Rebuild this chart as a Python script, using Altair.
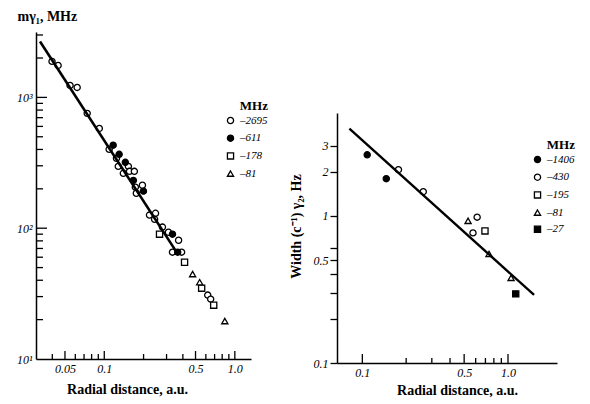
import altair as alt
import pandas as pd

FONT = "Liberation Serif"

# ---------------- Left panel: frequency (MHz) vs radial distance (a.u.) ----------------
L_series = ["–2695", "–611", "–178", "–81"]
L_shapes = ["circle", "circle", "square", "triangle-up"]
L_fills = ["white", "black", "white", "white"]

L_2695_x = [0.0398, 0.0443, 0.0547, 0.0620, 0.0740, 0.0916, 0.109, 0.124, 0.128, 0.140,
            0.153, 0.156, 0.170, 0.173, 0.196, 0.176, 0.222, 0.247, 0.243, 0.279,
            0.310, 0.371, 0.333, 0.391, 0.620, 0.653]
L_2695_y = [1885, 1754, 1235, 1192, 755, 579, 401, 342, 297, 263,
            297, 272, 272, 206, 213, 185, 126, 130, 117, 102,
            93.1, 80.9, 65.6, 65.6, 30.8, 28.7]
L_611_x = [0.117, 0.130, 0.145, 0.167, 0.1995, 0.333, 0.365]
L_611_y = [431, 367, 319, 232, 192, 90, 65.6]
L_178_x = [0.265, 0.412, 0.557, 0.689]
L_178_y = [90, 54.9, 34.8, 25.8]
L_81_x = [0.475, 0.538, 0.838]
L_81_y = [44.6, 38.7, 19.5]
L_fit_x = [0.0322, 0.358]
L_fit_y = [2673, 65.6]

L_ytick_major = [100, 1000]
L_ytick_minor = [20, 30, 40, 50, 60, 70, 80, 90, 200, 300, 400, 500, 600, 700, 800, 900, 2000, 3000]
L_ylabels = [10, 100, 1000]
L_xtick_major = [0.05, 0.1, 0.5, 1.0]
L_xtick_minor = [0.04, 0.06, 0.07, 0.08, 0.09, 0.2, 0.3, 0.4, 0.6, 0.7, 0.8, 0.9]
L_xlabels = [0.05, 0.1, 0.5, 1.0]

# ---------------- Right panel: width (Hz) vs radial distance (a.u.) ----------------
R_series = ["–1406", "–430", "–195", "–81 ", "–27"]
R_shapes = ["circle", "circle", "square", "triangle-up", "square"]
R_fills = ["black", "white", "white", "white", "black"]

R_1406_x = [0.108, 0.146]
R_1406_y = [2.60, 1.79]
R_430_x = [0.177, 0.262, 0.614, 0.575]
R_430_y = [2.06, 1.46, 0.98, 0.766]
R_195_x = [0.695]
R_195_y = [0.79]
R_81_x = [0.532, 0.741, 1.05]
R_81_y = [0.925, 0.551, 0.379]
R_27_x = [1.13]
R_27_y = [0.295]
R_fit_x = [0.0815, 1.51]
R_fit_y = [3.91, 0.290]

R_yticks = [0.1, 0.2, 0.3, 0.4, 0.5, 0.6, 1, 2, 3]
R_ylabels = [0.1, 0.5, 1, 2, 3]
R_xtick_major = [0.1, 0.5, 1.0]
R_xtick_minor = [0.2, 0.3, 0.4, 0.6, 0.7, 0.8, 0.9]


def make_df(pairs, names):
    rows = []
    for (xs, ys), n in zip(pairs, names):
        for x, y in zip(xs, ys):
            rows.append({"r": x, "v": y, "s": n})
    return pd.DataFrame(rows)


left_df = make_df([(L_2695_x, L_2695_y), (L_611_x, L_611_y), (L_178_x, L_178_y), (L_81_x, L_81_y)], L_series)
right_df = make_df([(R_1406_x, R_1406_y), (R_430_x, R_430_y), (R_195_x, R_195_y), (R_81_x, R_81_y), (R_27_x, R_27_y)], R_series)

LW, LH = 215, 327
RW, RH = 220, 250

lx = alt.Scale(type="log", domain=[0.03, 1.33], nice=False)
ly = alt.Scale(type="log", domain=[10, 3162], nice=False)
rx = alt.Scale(type="log", domain=[0.067, 2.17], nice=False)
ry = alt.Scale(type="log", domain=[0.1, 5], nice=False)


def legend(x, y):
    return alt.Legend(title="MHz", orient="none", legendX=x, legendY=y,
                      titleAnchor="end", titleAlign="right")


def point_enc(series, shapes, fills, lx_, ly_):
    n = len(series)
    return dict(
        shape=alt.Shape("s:N", scale=alt.Scale(domain=series, range=shapes), legend=legend(lx_, ly_)),
        fill=alt.Fill("s:N", scale=alt.Scale(domain=series, range=fills), legend=legend(lx_, ly_)),
        stroke=alt.Stroke("s:N", scale=alt.Scale(domain=series, range=["black"] * n), legend=legend(lx_, ly_)),
    )


left_pts = alt.Chart(left_df).mark_point(filled=True, size=38, strokeWidth=1.3, opacity=1).encode(
    x=alt.X("r:Q", scale=lx, axis=alt.Axis(
        values=L_xlabels, ticks=False, labelExpr="datum.value == 1 ? '1.0' : format(datum.value, '~g')",
        title="Radial distance, a.u.", titleX=91, titleY=34, titleBaseline="alphabetic", labelPadding=4)),
    y=alt.Y("v:Q", scale=ly, axis=alt.Axis(
        values=L_ylabels, ticks=False,
        labelExpr="datum.value == 10 ? '10¹' : datum.value == 100 ? '10²' : '10³'",
        title="mγ₁, MHz", titleAngle=0, titleX=-19, titleY=-12, titleAlign="left",
        titleBaseline="alphabetic", labelPadding=4)),
    **point_enc(L_series, L_shapes, L_fills, 189, 68),
)
left_fit = alt.Chart(pd.DataFrame({"r": L_fit_x, "v": L_fit_y})).mark_line(color="black", strokeWidth=2.6).encode(
    x=alt.X("r:Q", scale=lx), y=alt.Y("v:Q", scale=ly))
l_ty_maj = alt.Chart(pd.DataFrame({"v": L_ytick_major})).mark_tick(color="black", thickness=1.3, size=11, opacity=1).encode(
    y=alt.Y("v:Q", scale=ly), x=alt.value(5.5))
l_ty_min = alt.Chart(pd.DataFrame({"v": L_ytick_minor})).mark_tick(color="black", thickness=1.3, size=7, opacity=1).encode(
    y=alt.Y("v:Q", scale=ly), x=alt.value(3.5))
l_tx_maj = alt.Chart(pd.DataFrame({"r": L_xtick_major})).mark_tick(color="black", thickness=1.3, size=8, opacity=1).encode(
    x=alt.X("r:Q", scale=lx), y=alt.value(LH - 4))
l_tx_min = alt.Chart(pd.DataFrame({"r": L_xtick_minor})).mark_tick(color="black", thickness=1.3, size=5, opacity=1).encode(
    x=alt.X("r:Q", scale=lx), y=alt.value(LH - 2.5))

left = alt.layer(left_pts, left_fit, l_ty_maj, l_ty_min, l_tx_maj, l_tx_min).properties(width=LW, height=LH)

right_pts = alt.Chart(right_df).mark_point(filled=True, size=38, strokeWidth=1.3, opacity=1).encode(
    x=alt.X("r:Q", scale=rx, axis=alt.Axis(
        values=R_xtick_major, ticks=False, labelExpr="datum.value == 1 ? '1.0' : format(datum.value, '~g')",
        title="Radial distance, a.u.", titleX=120, titleY=31, titleBaseline="alphabetic", labelPadding=4)),
    y=alt.Y("v:Q", scale=ry, axis=alt.Axis(
        values=R_yticks, ticks=True, tickSize=7, tickWidth=1.3, tickColor="black", labelOverlap=False,
        labelExpr="indexof([0.1, 0.5, 1, 2, 3], datum.value) >= 0 ? format(datum.value, '~g') : ''",
        title="Width (c⁻¹) γ₂, Hz", titleAngle=270, titleX=-34, titleY=113, titleAlign="center",
        titleBaseline="bottom", labelPadding=2)),
    **point_enc(R_series, R_shapes, R_fills, 195, 107),
)
right_fit = alt.Chart(pd.DataFrame({"r": R_fit_x, "v": R_fit_y})).mark_line(color="black", strokeWidth=2.4).encode(
    x=alt.X("r:Q", scale=rx), y=alt.Y("v:Q", scale=ry))
r_tx_maj = alt.Chart(pd.DataFrame({"r": R_xtick_major})).mark_tick(color="black", thickness=1.3, size=9, opacity=1).encode(
    x=alt.X("r:Q", scale=rx), y=alt.value(RH - 4.5))
r_tx_min = alt.Chart(pd.DataFrame({"r": R_xtick_minor})).mark_tick(color="black", thickness=1.3, size=5, opacity=1).encode(
    x=alt.X("r:Q", scale=rx), y=alt.value(RH - 2.5))

right = alt.layer(right_pts, right_fit, r_tx_maj, r_tx_min).properties(width=RW, height=RH)

spacer = alt.Chart(pd.DataFrame({"a": [0]})).mark_point(opacity=0).encode(
    x=alt.X("a:Q", axis=None), y=alt.Y("a:Q", axis=None)).properties(width=RW, height=81)

chart = alt.hconcat(
    left,
    alt.vconcat(spacer, right, spacing=0),
    spacing=21,
).resolve_scale(
    x="independent", y="independent", shape="independent", fill="independent", stroke="independent"
).resolve_legend(shape="independent", fill="independent", stroke="independent").properties(
    padding={"left": 8, "top": 1, "right": 0, "bottom": 0}, background="white"
).configure_view(strokeWidth=0).configure_axis(
    grid=False, domainColor="black", domainWidth=1.5,
    labelFont=FONT, labelFontStyle="italic", labelFontSize=12, labelColor="black",
    titleFont=FONT, titleFontWeight="bold", titleFontSize=14, titleColor="black",
).configure_legend(
    labelFont=FONT, labelFontStyle="italic", labelFontSize=11, labelColor="black",
    titleFont=FONT, titleFontWeight="bold", titleFontSize=13, titleColor="black",
    symbolSize=38, symbolStrokeColor="black", symbolStrokeWidth=1.3,
    rowPadding=4.7, titlePadding=2, padding=0, labelOffset=4,
)

chart.save("out.html", embed_options={"renderer": "svg", "actions": False})
